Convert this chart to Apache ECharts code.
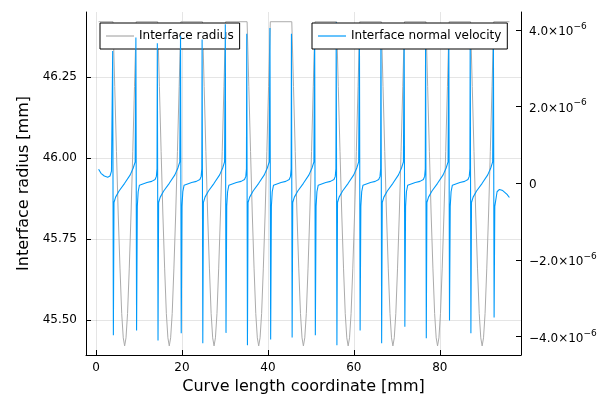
<!DOCTYPE html>
<html>
<head>
<meta charset="utf-8">
<script src="https://cdn.jsdelivr.net/npm/echarts@6/dist/echarts.min.js"></script>
<style>
  html, body { margin: 0; padding: 0; background: #fff; }
  #chart { width: 600px; height: 400px; }
</style>
</head>
<body>
<div id="chart"></div>
<script>
// ---- values (mm / ×1e-6) ----
var curveStart = 0.6;
var curveEnd = 96.2;
var radiusTop = 46.42;

// centre of each dip in the interface radius
var dipCenters = [6.66, 17.05, 27.47, 37.86, 48.26, 58.68, 69.09, 79.48, 89.86];
var dipHalf = 2.7;
// shape of one dip: offset from its centre -> radius
var dipOffsets = [-2.7, -2.3, -1.9, -1.5, -1.08, -0.68, -0.32, 0, 0.32, 0.68, 1.08, 1.5, 1.9, 2.3, 2.7];
var dipRadius  = [46.42, 46.22, 46.02, 45.83, 45.66, 45.52, 45.445, 45.42, 45.445, 45.52, 45.66, 45.83, 46.02, 46.22, 46.42];

// velocity spikes, two per dip (entry, exit)
var spikeUp   = [3.45, 3.8, 3.65, 3.85, 3.75, 4.15, 3.9, 4.05, 3.9, 4.05, 4.2, 4.0, 4.1, 3.95, 4.1, 3.9, 4.0, 3.8];
var spikeDown = [-3.96, -3.84, -4.1, -3.91, -4.17, -3.9, -4.22, -4.07, -4.02, -3.96, -4.22, -3.84, -4.17, -3.74, -4.04, -3.58, -3.91, -3.5];
// inside a dip, offset from the entry
var rampOffsets = [0.22, 0.6, 1.4, 2.7, 4.0, 4.7, 5.15];
var rampValues  = [-0.5, -0.36, -0.2, 0.0, 0.22, 0.40, 0.56];
// along a crest, offset from the previous exit
var crestOffsets = [0.25, 0.45, 0.75, 1.2, 2.5, 3.6];
var crestValues  = [-0.6, -0.22, -0.05, 0.0, 0.02, 0.05];
// just before an entry, offset from it
var preOffsets = [-0.6, -0.3, -0.15];
var preValues  = [0.1, 0.18, 0.38];
// ends of the curve
var headX = [0.6, 1.16, 1.93, 2.72, 3.26, 3.6];
var headV = [0.365, 0.26, 0.19, 0.16, 0.19, 0.32];
var tailX = [92.8, 93.33, 93.88, 94.65, 95.65, 96.2];
var tailV = [-0.6, -0.22, -0.16, -0.19, -0.29, -0.37];

var xTicks = [0, 20, 40, 60, 80];
var radiusTicks = [45.5, 45.75, 46.0, 46.25];
var velTicks = [-4e-6, -2e-6, 0, 2e-6, 4e-6];

// ---- build the two polylines ----
var radiusData = [[curveStart, radiusTop]];
dipCenters.forEach(function (c) {
    for (var i = 0; i < dipOffsets.length; i++) {
        radiusData.push([c + dipOffsets[i], dipRadius[i]]);
    }
});
radiusData.push([curveEnd, radiusTop]);

var E = 1e-6;
var velData = [];
for (var i = 0; i < headX.length; i++) velData.push([headX[i], headV[i] * E]);
dipCenters.forEach(function (c, k) {
    var a = c - dipHalf, b = c + dipHalf, j;
    if (k > 0) {
        for (j = 0; j < preOffsets.length; j++) velData.push([a + preOffsets[j], preValues[j] * E]);
    }
    velData.push([a - 0.08, spikeUp[2 * k] * E]);
    velData.push([a + 0.08, spikeDown[2 * k] * E]);
    for (j = 0; j < rampOffsets.length; j++) velData.push([a + rampOffsets[j], rampValues[j] * E]);
    velData.push([b - 0.08, spikeUp[2 * k + 1] * E]);
    velData.push([b + 0.08, spikeDown[2 * k + 1] * E]);
    if (k < dipCenters.length - 1) {
        for (j = 0; j < crestOffsets.length; j++) velData.push([b + crestOffsets[j], crestValues[j] * E]);
    } else {
        for (j = 0; j < tailX.length; j++) velData.push([tailX[j], tailV[j] * E]);
    }
});

function sciLabel(v) {
    if (Math.abs(v) < 1e-12) return '0';
    var m = v / E;
    return '{b|' + (m < 0 ? '\u2212' : '') + Math.abs(m).toFixed(1) + '\u00d710}{s|\u22126}';
}

var chart = echarts.init(document.getElementById('chart'));
var font = 'DejaVu Sans';
var legendBase = {
    top: 23,
    orient: 'horizontal',
    backgroundColor: '#fff',
    borderColor: '#000',
    borderWidth: 1,
    borderRadius: 0,
    padding: [6, 6, 6, 6],
    icon: 'rect',
    itemWidth: 28,
    itemHeight: 1.2,
    selectedMode: false,
    textStyle: { fontFamily: font, fontSize: 12, color: '#000', lineHeight: 14 }
};
var option = {
    animation: false,
    backgroundColor: '#fff',
    textStyle: { fontFamily: font },
    grid: { left: 86, right: 79, top: 12, bottom: 45 },
    legend: [
        echarts.util.extend({ data: ['Interface radius'], left: 100, z: 2 }, legendBase),
        echarts.util.extend({ data: ['Interface normal velocity'], left: 312, z: 4 }, legendBase)
    ],
    xAxis: {
        type: 'value',
        min: -2.33,
        max: 98.9,
        name: 'Curve length coordinate [mm]',
        nameLocation: 'middle',
        nameGap: 23,
        nameTextStyle: { fontSize: 16, color: '#000', fontFamily: font },
        axisLine: { onZero: false, lineStyle: { color: '#000', width: 1 } },
        axisTick: { inside: true, length: 5, customValues: xTicks, lineStyle: { color: '#000' } },
        axisLabel: { customValues: xTicks, margin: 7, fontSize: 12, color: '#000', fontFamily: font },
        splitLine: { show: true, lineStyle: { color: 'rgba(0,0,0,0.1)', width: 1 } }
    },
    yAxis: [
        {
            type: 'value',
            position: 'left',
            min: 45.392,
            max: 46.45,
            name: 'Interface radius [mm]',
            nameLocation: 'middle',
            nameGap: 46,
            nameTextStyle: { fontSize: 16, color: '#000', fontFamily: font },
            axisLine: { show: true, onZero: false, lineStyle: { color: '#000', width: 1 } },
            axisTick: { show: true, inside: true, length: 5, customValues: radiusTicks, lineStyle: { color: '#000' } },
            axisLabel: {
                customValues: radiusTicks, margin: 9, fontSize: 12, color: '#000', fontFamily: font,
                formatter: function (v) { return v.toFixed(2); }
            },
            splitLine: { show: true, lineStyle: { color: 'rgba(0,0,0,0.1)', width: 1 } }
        },
        {
            type: 'value',
            position: 'right',
            min: -4.477e-6,
            max: 4.467e-6,
            axisLine: { show: true, onZero: false, lineStyle: { color: '#000', width: 1 } },
            axisTick: { show: true, inside: true, length: 5, customValues: velTicks, lineStyle: { color: '#000' } },
            axisLabel: {
                customValues: velTicks, margin: 8, fontSize: 12, color: '#000', fontFamily: font,
                padding: [4, 0, 0, 0],
                formatter: sciLabel,
                rich: {
                    b: { fontSize: 12, color: '#000', fontFamily: font },
                    s: { fontSize: 9, color: '#000', fontFamily: font, padding: [0, 0, 11, 0] }
                }
            },
            splitLine: { show: false }
        }
    ],
    series: [
        {
            name: 'Interface radius',
            type: 'line',
            xAxisIndex: 0,
            yAxisIndex: 0,
            z: 1,
            symbol: 'none',
            showSymbol: false,
            lineStyle: { color: '#ababab', width: 1 },
            itemStyle: { color: '#ababab' },
            data: radiusData
        },
        {
            name: 'Interface normal velocity',
            type: 'line',
            xAxisIndex: 0,
            yAxisIndex: 1,
            z: 3,
            symbol: 'none',
            showSymbol: false,
            lineStyle: { color: '#009afa', width: 1.1 },
            itemStyle: { color: '#009afa' },
            data: velData
        }
    ]
};
chart.setOption(option);
window.addEventListener('resize', chart.resize);
</script>
</body>
</html>
